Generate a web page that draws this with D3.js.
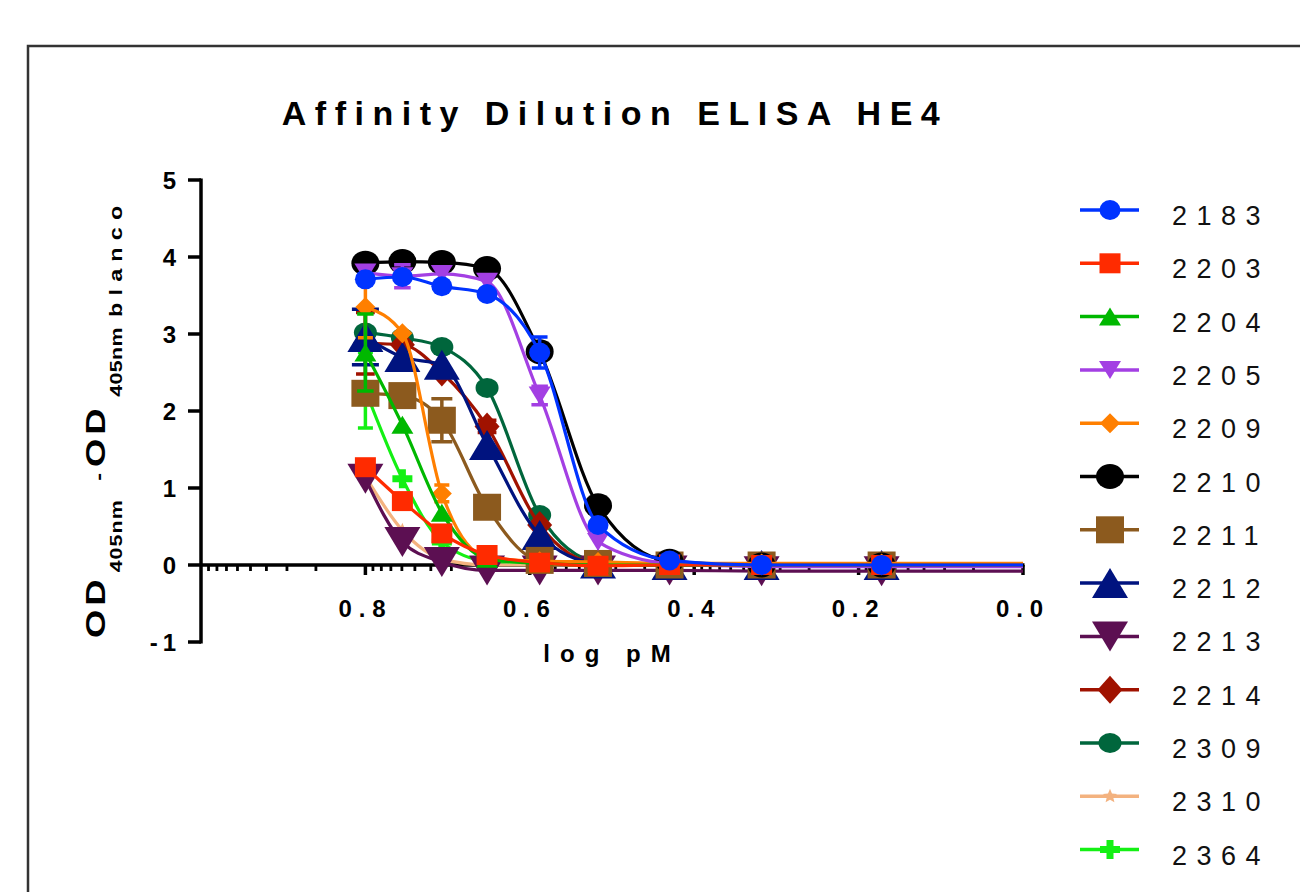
<!DOCTYPE html>
<html>
<head>
<meta charset="utf-8">
<script src="https://cdn.jsdelivr.net/npm/d3@7"></script>
<style>
  body { margin: 0; background: #fff; }
  svg { display: block; font-family: 'Liberation Sans', Arial, sans-serif; }
</style>
</head>
<body>
<div id="chart"></div>
<script>
// data
const logConc = [0.80, 0.755, 0.707, 0.652, 0.588, 0.517, 0.43, 0.318, 0.172];
const seriesNames = ['2183', '2203', '2204', '2205', '2209', '2210', '2211', '2212', '2213', '2214', '2309', '2310', '2364'];

const od2183 = [3.71, 3.74, 3.62, 3.52, 2.76, 0.52, 0.06, 0.00, 0.00];
const od2203 = [1.27, 0.83, 0.41, 0.13, 0.03, -0.01, 0.00, 0.00, 0.00];
const od2204 = [2.76, 1.82, 0.68, 0.08, 0.02, 0.00, 0.00, 0.00, 0.00];
const od2205 = [3.80, 3.75, 3.78, 3.68, 2.20, 0.30, 0.02, -0.02, -0.02];
const od2209 = [3.35, 3.01, 0.93, 0.10, 0.05, 0.04, 0.02, 0.02, 0.02];
const od2210 = [3.92, 3.94, 3.93, 3.85, 2.77, 0.77, 0.05, 0.00, 0.00];
const od2211 = [2.23, 2.20, 1.88, 0.75, 0.06, 0.02, 0.00, 0.00, 0.00];
const od2212 = [2.96, 2.70, 2.60, 1.56, 0.39, 0.02, 0.00, 0.00, 0.00];
const od2213 = [1.12, 0.30, 0.04, -0.07, -0.07, -0.07, -0.07, -0.08, -0.08];
const od2214 = [2.88, 2.86, 2.50, 1.80, 0.52, 0.02, 0.00, 0.00, 0.00];
const od2309 = [3.02, 2.95, 2.83, 2.30, 0.65, 0.04, 0.00, 0.00, 0.00];
const od2310 = [1.15, 0.45, 0.08, 0.00, 0.00, 0.00, 0.00, 0.00, 0.00];
const od2364 = [2.27, 1.12, 0.30, 0.05, 0.02, 0.00, 0.00, 0.00, 0.00];

// error bars (SD), 0 = none visible
const err2183 = [0, 0, 0, 0, 0.20, 0, 0, 0, 0];
const err2203 = [0, 0, 0, 0, 0, 0, 0, 0, 0];
const err2204 = [0.50, 0, 0, 0, 0, 0, 0, 0, 0];
const err2205 = [0, 0.15, 0, 0, 0.12, 0, 0, 0, 0];
const err2209 = [0.40, 0, 0.11, 0, 0, 0, 0, 0, 0];
const err2210 = [0, 0, 0, 0, 0, 0, 0, 0, 0];
const err2211 = [0, 0.10, 0.28, 0, 0, 0, 0, 0, 0];
const err2212 = [0.36, 0, 0, 0, 0, 0, 0, 0, 0];
const err2213 = [0, 0, 0, 0, 0, 0, 0, 0, 0];
const err2214 = [0.40, 0, 0, 0.08, 0, 0, 0, 0, 0];
const err2309 = [0, 0, 0, 0, 0, 0, 0, 0, 0];
const err2310 = [0, 0, 0, 0, 0, 0, 0, 0, 0];
const err2364 = [0.49, 0, 0, 0, 0, 0, 0, 0, 0];

const xTicks = [0.8, 0.6, 0.4, 0.2, 0.0];
const yTicks = [-1, 0, 1, 2, 3, 4, 5];

const odValues = [od2183, od2203, od2204, od2205, od2209, od2210, od2211, od2212, od2213, od2214, od2309, od2310, od2364];
const errValues = [err2183, err2203, err2204, err2205, err2209, err2210, err2211, err2212, err2213, err2214, err2309, err2310, err2364];

// styles
const colors = ['#0033ff', '#ff2b00', '#00b800', '#a33fe3', '#ff7f00', '#000000', '#8c5a1e',
                '#00137f', '#5c0f52', '#a01200', '#00663c', '#f3b27f', '#14f014'];
const shapes = ['circle', 'square', 'triUp', 'triDown', 'diamond', 'circle', 'square',
                'triUp', 'triDown', 'diamond', 'circle', 'star', 'plus'];
const markerSize = [[21, 20], [21, 20], [22, 18], [22, 18], [20, 20], [28, 25], [28, 27],
                    [36, 30], [36, 30], [25, 28], [23, 20], [15, 15], [20, 19]];

const width = 1300;
const height = 892;

const svg = d3.select('#chart').append('svg')
    .attr('width', width)
    .attr('height', height);

// outer frame (runs off the page right and bottom)
svg.append('rect')
    .attr('x', 28).attr('y', 46)
    .attr('width', 1300).attr('height', 900)
    .attr('fill', 'none')
    .attr('stroke', '#333')
    .attr('stroke-width', 2.5);

const xScale = d3.scaleLinear().domain([1, 0]).range([201, 1023]);
const yScale = d3.scaleLinear().domain([-1, 5]).range([642, 180]);

function markerPath(shape, w, h) {
    const a = w / 2, b = h / 2;
    switch (shape) {
    case 'circle':
        return 'M' + (-a) + ',0A' + a + ',' + b + ' 0 1,0 ' + a + ',0A' + a + ',' + b + ' 0 1,0 ' + (-a) + ',0Z';
    case 'square':
        return 'M' + (-a) + ',' + (-b) + 'H' + a + 'V' + b + 'H' + (-a) + 'Z';
    case 'triUp':
        return 'M0,' + (-b) + 'L' + a + ',' + b + 'L' + (-a) + ',' + b + 'Z';
    case 'triDown':
        return 'M0,' + b + 'L' + a + ',' + (-b) + 'L' + (-a) + ',' + (-b) + 'Z';
    case 'diamond':
        return 'M0,' + (-b) + 'L' + a + ',0L0,' + b + 'L' + (-a) + ',0Z';
    case 'star': {
        let p = '';
        for (let i = 0; i < 10; i++) {
            const r = i % 2 ? a * 0.45 : a;
            const ang = -Math.PI / 2 + i * Math.PI / 5;
            p += (i ? 'L' : 'M') + (r * Math.cos(ang)).toFixed(2) + ',' + (r * Math.sin(ang)).toFixed(2);
        }
        return p + 'Z';
    }
    case 'plus': {
        const t = 3.5;
        return 'M' + (-t) + ',' + (-b) + 'H' + t + 'V' + (-t) + 'H' + a + 'V' + t + 'H' + t + 'V' + b +
            'H' + (-t) + 'V' + t + 'H' + (-a) + 'V' + (-t) + 'H' + (-t) + 'Z';
    }
    }
}

const series = seriesNames.map((name, i) => ({
    name: name,
    color: colors[i],
    shape: shapes[i],
    size: markerSize[i],
    points: logConc.map((x, j) => ({ x: x, y: odValues[i][j], e: errValues[i][j] }))
}));

// title
svg.append('text')
    .attr('x', 615).attr('y', 125)
    .attr('text-anchor', 'middle')
    .attr('font-size', 34).attr('font-weight', 'bold')
    .attr('letter-spacing', 8.5)
    .text('Affinity Dilution ELISA HE4');

// axes
const axisG = svg.append('g').attr('stroke', '#000').attr('fill', 'none');
axisG.append('line')
    .attr('x1', xScale(1)).attr('x2', xScale(1))
    .attr('y1', yScale(5) - 1.5).attr('y2', yScale(-1) + 1.5)
    .attr('stroke-width', 3.5);
axisG.selectAll('.ytick').data(yTicks).enter().append('line')
    .attr('x1', xScale(1) - 13).attr('x2', xScale(1))
    .attr('y1', d => yScale(d)).attr('y2', d => yScale(d))
    .attr('stroke-width', 3.5);
axisG.append('line')
    .attr('x1', xScale(1)).attr('x2', xScale(0) + 1.5)
    .attr('y1', yScale(0)).attr('y2', yScale(0))
    .attr('stroke-width', 3.5);
axisG.selectAll('.xtick').data(xTicks).enter().append('line')
    .attr('x1', d => xScale(d)).attr('x2', d => xScale(d))
    .attr('y1', yScale(0)).attr('y2', yScale(0) + 10)
    .attr('stroke-width', 3.5);

// minor ticks: log spaced inside each 0.2 step (Prism style)
const minorTicks = [];
[1.0, 0.8, 0.6, 0.4, 0.2].forEach(v => {
    for (let k = 2; k <= 9; k++) minorTicks.push(v - 0.2 * (1 - Math.log10(k)));
});
axisG.selectAll('.minor').data(minorTicks).enter().append('line')
    .attr('x1', d => xScale(d)).attr('x2', d => xScale(d))
    .attr('y1', yScale(0)).attr('y2', yScale(0) + 6)
    .attr('stroke-width', 2.8);

svg.selectAll('.ylab').data(yTicks).enter().append('text')
    .attr('x', 181).attr('y', d => yScale(d) + 9)
    .attr('text-anchor', 'end')
    .attr('font-size', 24).attr('font-weight', 'bold')
    .attr('letter-spacing', 5)
    .text(d => d);

svg.selectAll('.xlab').data(xTicks).enter().append('text')
    .attr('x', d => xScale(d)).attr('y', 617)
    .attr('text-anchor', 'middle')
    .attr('font-size', 24).attr('font-weight', 'bold')
    .attr('letter-spacing', 6.8)
    .text(d => d.toFixed(1));

svg.append('text')
    .attr('x', 612).attr('y', 662)
    .attr('text-anchor', 'middle')
    .attr('font-size', 24).attr('font-weight', 'bold')
    .attr('letter-spacing', 10)
    .text('log pM');

// y title with subscripts, drawn a bit stretched along its length like the original
const yTitle = svg.append('text')
    .attr('transform', 'translate(105,638) rotate(-90) scale(1.3,1)')
    .attr('font-weight', 'bold');
yTitle.append('tspan').attr('x', 0).attr('font-size', 28).attr('letter-spacing', 3).text('OD');
yTitle.append('tspan').attr('x', 50.5).attr('dy', 17).attr('font-size', 16.5).attr('letter-spacing', 0.8).text('405nm');
yTitle.append('tspan').attr('x', 121).attr('dy', -17).attr('font-size', 18).text('-');
yTitle.append('tspan').attr('x', 131.5).attr('font-size', 28).attr('letter-spacing', 3).text('OD');
yTitle.append('tspan').attr('x', 185.5).attr('dy', 17).attr('font-size', 16.5).attr('letter-spacing', 0.3).text('405nm');
yTitle.append('tspan').attr('x', 247).attr('font-size', 18).attr('letter-spacing', 5.5).text('blanco');

// curves + points, first data set ends up on top
const line = d3.line()
    .x(d => xScale(d.x))
    .y(d => yScale(d.y))
    .curve(d3.curveMonotoneX);

const groups = svg.selectAll('.series')
    .data(series.slice().reverse())
    .enter().append('g')
    .attr('class', 'series');

groups.append('path')
    .attr('fill', 'none')
    .attr('stroke', d => d.color)
    .attr('stroke-width', 3.2)
    .attr('d', d => {
        const last = d.points[d.points.length - 1];
        return line(d.points.concat([{ x: 0, y: last.y }]));
    });

groups.each(function(s) {
    const g = d3.select(this);
    const withErr = s.points.filter(p => p.e > 0);
    const cap = s.size[0] * 0.75;
    g.selectAll('.err').data(withErr).enter().append('path')
        .attr('fill', 'none')
        .attr('stroke', s.color)
        .attr('stroke-width', 3.5)
        .attr('d', p => {
            const cx = xScale(p.x), y1 = yScale(p.y + p.e), y2 = yScale(p.y - p.e);
            return 'M' + cx + ',' + y1 + 'V' + y2 +
                'M' + (cx - cap / 2) + ',' + y1 + 'H' + (cx + cap / 2) +
                'M' + (cx - cap / 2) + ',' + y2 + 'H' + (cx + cap / 2);
        });
    g.selectAll('.pt').data(s.points).enter().append('path')
        .attr('transform', p => 'translate(' + xScale(p.x) + ',' + yScale(p.y) + ')')
        .attr('fill', s.color)
        .attr('d', markerPath(s.shape, s.size[0], s.size[1]));
});

// legend
const legend = svg.append('g');
const rowY = i => 210 + i * 53.3;
const leg = legend.selectAll('.leg').data(series).enter().append('g')
    .attr('transform', (d, i) => 'translate(0,' + rowY(i) + ')');
leg.append('line')
    .attr('x1', 1080).attr('x2', 1139)
    .attr('stroke', d => d.color)
    .attr('stroke-width', 3.5);
leg.append('path')
    .attr('transform', 'translate(1110,0)')
    .attr('fill', d => d.color)
    .attr('d', d => markerPath(d.shape, d.size[0], d.size[1]));
leg.append('text')
    .attr('x', 1172).attr('y', 15)
    .attr('font-size', 27)
    .attr('letter-spacing', 9.5)
    .attr('fill', '#111')
    .text(d => d.name);
</script>
</body>
</html>
